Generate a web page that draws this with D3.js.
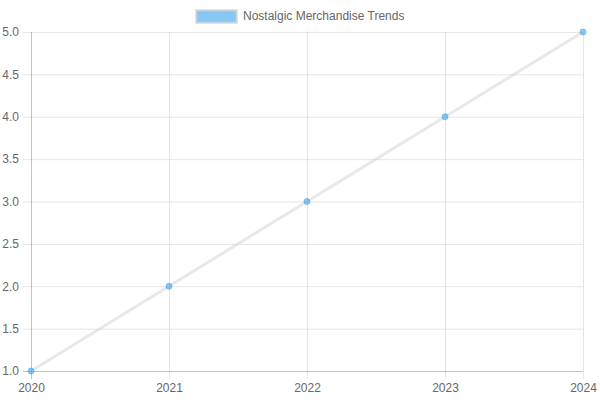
<!DOCTYPE html>
<html><head><meta charset="utf-8">
<script src="https://cdn.jsdelivr.net/npm/d3@7"></script>
<style>body{margin:0;background:#fff}svg{display:block}</style>
</head><body>
<svg id="c" width="600" height="400"></svg>
<script>
const years = ["2020","2021","2022","2023","2024"];
const values = [1, 2, 3, 4, 5];
const yTicks = [1.0,1.5,2.0,2.5,3.0,3.5,4.0,4.5,5.0];
const seriesName = "Nostalgic Merchandise Trends";

(function(){
const svg = d3.select("#c");
const pL = 31, pR = 583, pT = 32, pB = 371;
const x = d3.scalePoint().domain(years).range([pL, pR]);
const y = d3.scaleLinear().domain([1, 5]).range([pB, pT]);
const font = "Liberation Sans, Arial, Helvetica, sans-serif";
const grid = "rgba(0,0,0,0.1)";

// horizontal grid
const yAxis = d3.axisLeft(y).tickValues(yTicks).tickFormat(d3.format(".1f"))
  .tickSize(8).tickPadding(4);
const gy = svg.append("g").attr("transform", `translate(${pL},0)`).call(yAxis);
gy.select(".domain").remove();
gy.selectAll("line").attr("stroke", grid);
gy.selectAll("text").attr("fill", "#666").style("font-family", font).style("font-size", "12px");
svg.append("g").selectAll("line").data(yTicks).join("line")
  .attr("x1", pL).attr("x2", pR)
  .attr("y1", d => y(d) + 0.5).attr("y2", d => y(d) + 0.5)
  .attr("stroke", grid);

// vertical grid
const xAxis = d3.axisBottom(x).tickSize(8).tickPadding(4);
const gx = svg.append("g").attr("transform", `translate(0,${pB})`).call(xAxis);
gx.select(".domain").remove();
gx.selectAll("line").attr("stroke", grid);
gx.selectAll("text").attr("fill", "#666").style("font-family", font).style("font-size", "12px");
svg.append("g").selectAll("line").data(years).join("line")
  .attr("x1", d => x(d) + 0.5).attr("x2", d => x(d) + 0.5)
  .attr("y1", pT).attr("y2", pB)
  .attr("stroke", grid);

// axis lines
svg.append("line").attr("x1", pL + 0.5).attr("x2", pL + 0.5).attr("y1", pT).attr("y2", pB + 8).attr("stroke", "rgba(0,0,0,0.15)");
svg.append("line").attr("x1", pL - 8).attr("x2", pR).attr("y1", pB + 0.5).attr("y2", pB + 0.5).attr("stroke", "rgba(0,0,0,0.15)");

// line
const data = years.map((d, i) => ({k: d, v: values[i]}));
svg.append("path").datum(data)
  .attr("fill", "none").attr("stroke", "rgba(200,200,200,0.42)").attr("stroke-width", 3)
  .attr("d", d3.line().x(d => x(d.k)).y(d => y(d.v)));

// points
svg.append("g").selectAll("circle").data(data).join("circle")
  .attr("cx", d => x(d.k)).attr("cy", d => y(d.v)).attr("r", 3)
  .attr("fill", "rgba(54,162,235,0.55)").attr("stroke", "rgba(54,162,235,0.55)").attr("stroke-width", 1);

// legend
const lg = svg.append("g");
lg.append("rect").attr("x", 196.5).attr("y", 10.5).attr("width", 40).attr("height", 12)
  .attr("fill", "rgba(54,162,235,0.6)").attr("stroke", "rgba(200,200,200,0.5)").attr("stroke-width", 3);
lg.append("text").attr("x", 243).attr("y", 16.5).attr("dominant-baseline", "middle")
  .attr("fill", "#666").style("font-family", font).style("font-size", "12px").text(seriesName);
})();
</script>
</body></html>
